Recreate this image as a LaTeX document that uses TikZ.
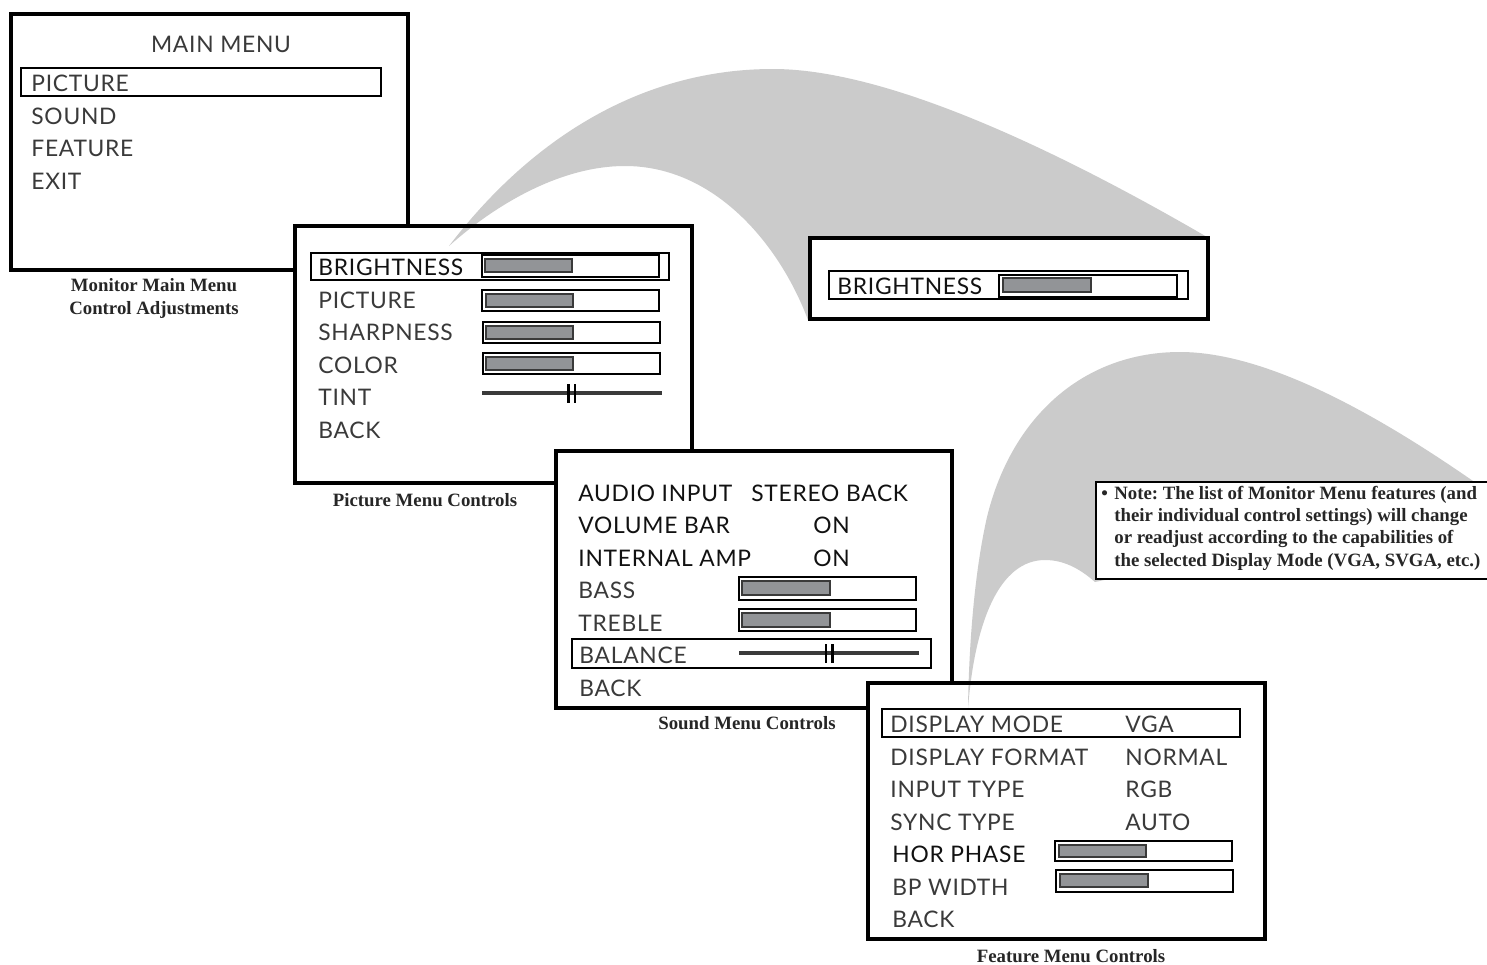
\documentclass[tikz,border=0pt]{standalone}
\usepackage{fontspec}
\setmainfont{Lato}[LetterSpace=3.2]
\newfontfamily\capfont{Liberation Serif}
\definecolor{swoosh}{HTML}{CBCBCB}
\definecolor{barfill}{HTML}{929497}
\definecolor{txtdark}{HTML}{3A3A3A}
\definecolor{txtblack}{HTML}{111111}
\tikzset{
  screen/.style={draw=black,line width=1.9pt,fill=white},
  screenline/.style={draw=black,line width=1.9pt},
  selbox/.style={draw=black,line width=1pt},
  barout/.style={draw=black,line width=0.75pt,fill=white},
  barin/.style={draw=txtdark,line width=0.75pt,fill=barfill},
  slider/.style={draw=txtdark,line width=2pt},
  sltick/.style={draw=black,line width=1.4pt},
  mt/.style={anchor=west,inner sep=0pt,text height=8.3pt,text depth=0pt,font=\fontsize{11.4pt}{12pt}\selectfont,text=txtdark},
  mtb/.style={mt,text=txtblack},
  captext/.style={anchor=center,inner sep=0pt,align=center,font=\capfont\bfseries\fontsize{9.4pt}{11.5pt}\selectfont,text=black!85},
  notetext/.style={anchor=west,inner sep=0pt,text height=5.8pt,text depth=1.8pt,font=\capfont\bfseries\fontsize{9.4pt}{10pt}\selectfont\frenchspacing,text=black!85}
}
\newcommand{\barbox}[8]{%
  \path[barout] (#1,#2) rectangle (#3,#4);
  \path[barin] (#5,#6) rectangle (#7,#8);}
\begin{document}
\begin{tikzpicture}[x=0.5pt,y=-0.5pt]
\useasboundingbox (0,0) rectangle (1487,964);
\fill[white] (0,0) rectangle (1487,964);
% main menu
\path[screen] (11,14) rectangle (408,270);
\path[selbox] (21,68) rectangle (381,96);
\node[mt,anchor=center] (mm) at (221,44) {MAIN MENU};
\node[mt] (m1) at (31,83) {PICTURE};
\node[mt] (m2) at (31,116) {SOUND};
\node[mt] (m3) at (31,148) {FEATURE};
\node[mt] (m4) at (31,181) {EXIT};
\node[captext] (c1) at (154,298.5) {Monitor Main Menu\\Control Adjustments};
% picture menu
\fill[white] (295,226) rectangle (692,483);
\fill[swoosh] (449,246) .. controls (530,140) and (640,69) .. (773,69)
  .. controls (880,69) and (1040,140) .. (1207,237) -- (1207,250) -- (808,320)
  .. controls (780,245) and (715,166) .. (625,166)
  .. controls (560,166) and (495,205) .. (449,246) -- cycle;
\path[screenline] (295,226) rectangle (692,483);
\path[selbox] (311,253) rectangle (669,280);
\node[mtb] (p1) at (318,267) {BRIGHTNESS};
\node[mt] (p2) at (318,300) {PICTURE};
\node[mt] (p3) at (318,332) {SHARPNESS};
\node[mt] (p4) at (318,365) {COLOR};
\node[mt] (p5) at (318,397) {TINT};
\node[mt] (p6) at (318,430) {BACK};
\barbox{482}{255}{659}{277}{485}{259}{572}{272}
\barbox{482}{290}{659}{311}{486}{294}{573}{307}
\barbox{483}{322}{660}{343}{486}{326}{573}{339}
\barbox{483}{353}{660}{374}{486}{357}{573}{370}
\path[slider] (482,393) -- (662,393);
\path[sltick] (568.5,384) -- (568.5,403);
\path[sltick] (575,384) -- (575,403);
\node[captext] (c2) at (425,500) {Picture Menu Controls};
% brightness
\path[screen] (810,238) rectangle (1208,319);
\path[selbox] (829,271) rectangle (1188,299);
\node[mtb] (b1) at (837,286) {BRIGHTNESS};
\barbox{999}{275}{1177}{297}{1003}{278}{1091}{292}
% sound menu
\path[screen] (556,451) rectangle (952,708);
\node[mtb] (s1) at (578,493) {AUDIO INPUT};
\node[mtb] (s1b) at (751,493) {STEREO BACK};
\node[mtb] (s2) at (578,525) {VOLUME BAR};
\node[mtb] (s2b) at (813,525) {ON};
\node[mtb] (s3) at (578,558) {INTERNAL AMP};
\node[mtb] (s3b) at (813,558) {ON};
\node[mt] (s4) at (578,590) {BASS};
\node[mt] (s5) at (578,623) {TREBLE};
\node[mt] (s6) at (579,655) {BALANCE};
\node[mt] (s7) at (579,688) {BACK};
\barbox{739}{577}{916}{600}{742}{581}{830}{595}
\barbox{739}{609}{916}{631}{742}{613}{830}{627}
\path[selbox] (572,639) rectangle (931,668);
\path[slider] (739,653) -- (919,653);
\path[sltick] (826,644) -- (826,663);
\path[sltick] (832.5,644) -- (832.5,663);
\node[captext] (c3) at (747,723) {Sound Menu Controls};
% feature menu + second swoosh
\fill[white] (868,683) rectangle (1265,939);
\fill[swoosh] (968,708) .. controls (969,640) and (975,570) .. (987,517)
  .. controls (1012,415) and (1085,352) .. (1180,352)
  .. controls (1270,352) and (1385,420) .. (1473,481) -- (1473,500) -- (1095,582)
  .. controls (1078,567) and (1062,560) .. (1045,560)
  .. controls (1000,560) and (975,620) .. (968,708) -- cycle;
\path[screenline] (868,683) rectangle (1265,939);
\path[selbox] (882,709) rectangle (1240,737);
\node[mt] (f1) at (890,724) {DISPLAY MODE};
\node[mt] (f1b) at (1125,724) {VGA};
\node[mt] (f2) at (890,757) {DISPLAY FORMAT};
\node[mt] (f2b) at (1125,757) {NORMAL};
\node[mt] (f3) at (890,789) {INPUT TYPE};
\node[mt] (f3b) at (1125,789) {RGB};
\node[mt] (f4) at (890,822) {SYNC TYPE};
\node[mt] (f4b) at (1125,822) {AUTO};
\node[mtb] (f5) at (892,854) {HOR PHASE};
\node[mt] (f6) at (892,887) {BP WIDTH};
\node[mt] (f7) at (892,919) {BACK};
\barbox{1055}{841}{1232}{861}{1059}{845}{1146}{857}
\barbox{1056}{870}{1233}{892}{1060}{874}{1148}{887}
\node[captext] (c4) at (1071,956) {Feature Menu Controls};
% note
\fill[white] (1096,482) rectangle (1487,579);
\draw[black,line width=0.7pt] (1487,482) -- (1096,482) -- (1096,579) -- (1487,579);
\node[notetext] (n0) at (1101,495) {•};
\node[notetext] (n1) at (1114,495) {Note: The list of Monitor Menu features (and};
\node[notetext] (n2) at (1114,517) {their individual control settings) will change};
\node[notetext] (n3) at (1114,539) {or readjust according to the capabilities of};
\node[notetext] (n4) at (1114,562) {the selected Display Mode (VGA, SVGA, etc.)};
\end{tikzpicture}
\end{document}
